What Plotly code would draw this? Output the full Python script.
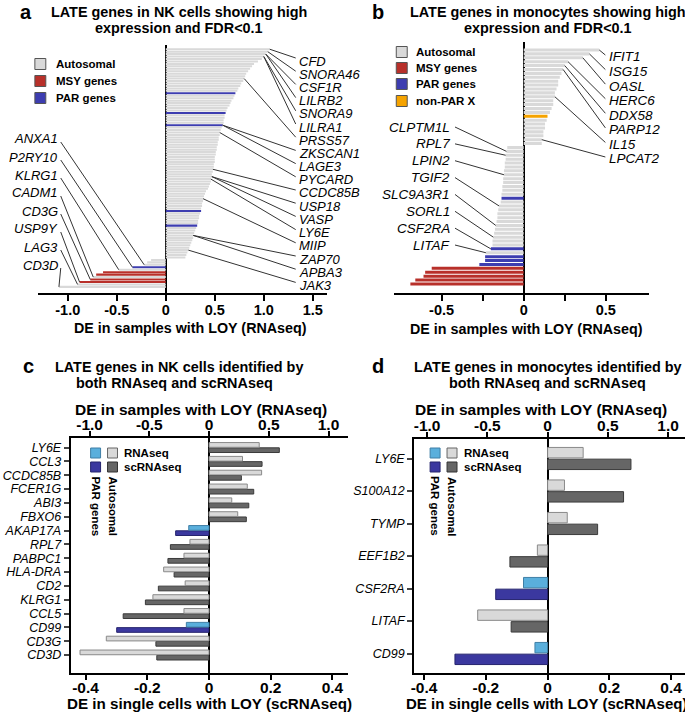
import plotly.graph_objects as go

W, H = 685, 714
FONT = "Liberation Sans, Arial, sans-serif"

GRAY = "#d9d9d9"
RED = "#b8302a"
BLUE = "#3d3db0"
ORANGE = "#f5a300"

# ---- panel a: NK cells, DE in samples with LOY (RNAseq), sorted top to bottom ----
a_de = [
    1.06, 1.04, 1.02, 1.00, 0.98, 0.94, 0.90, 0.88, 0.86, 0.84,
    0.82, 0.81, 0.80, 0.79, 0.77, 0.76, 0.74, 0.73, 0.71, 0.70,
    0.69, 0.67, 0.66, 0.65, 0.63, 0.62, 0.61, 0.60, 0.60, 0.59,
    0.59, 0.58, 0.57, 0.56, 0.55, 0.55, 0.54, 0.54, 0.53, 0.53,
    0.52, 0.52, 0.51, 0.51, 0.50, 0.50, 0.50, 0.49, 0.49, 0.48,
    0.48, 0.47, 0.47, 0.46, 0.46, 0.45, 0.44, 0.43, 0.41, 0.40,
    0.39, 0.38, 0.38, 0.37, 0.37, 0.36, 0.36, 0.35, 0.34, 0.34,
    0.33, 0.33, 0.32, 0.31, 0.30, 0.29, 0.28, 0.28, 0.27, 0.26,
    0.25, 0.24, 0.23, 0.22, 0.21, 0.20,
    -0.15, -0.19, -0.22, -0.34, -0.48, -0.64, -0.71, -0.74, -0.77, -0.88, -0.90, -1.09,
]
a_par_rows = [18, 26, 31, 66, 72, 89]
a_msy_rows = [91, 92, 94, 95]
a_right_genes = ["CFD", "SNORA46", "CSF1R", "LILRB2", "SNORA9", "LILRA1", "PRSS57",
                 "ZKSCAN1", "LAGE3", "PYCARD", "CCDC85B", "USP18", "VASP", "LY6E",
                 "MIIP", "ZAP70", "APBA3", "JAK3"]
a_right_rows = [0, 1, 2, 2, 3, 3, 12, 31, 31, 34, 49, 52, 52, 53, 61, 76, 76, 82]
a_left_genes = ["ANXA1", "P2RY10", "KLRG1", "CADM1", "CD3G", "USP9Y", "LAG3", "CD3D"]
a_left_rows = [88, 89, 90, 93, 94, 95, 96, 97]

# ---- panel b: monocytes ----
b_de = [
    0.46, 0.40, 0.36, 0.27, 0.25, 0.24, 0.23, 0.22, 0.21, 0.21,
    0.20, 0.19, 0.19, 0.18, 0.18, 0.17, 0.16, 0.145, 0.14, 0.13,
    0.13, 0.12, 0.12, 0.11, 0.11,
    -0.10, -0.105, -0.11, -0.11, -0.115, -0.115, -0.12, -0.12, -0.125, -0.125,
    -0.13, -0.13, -0.135, -0.135, -0.14, -0.15, -0.155, -0.16, -0.16, -0.165,
    -0.17, -0.175, -0.18, -0.185, -0.19, -0.19, -0.20, -0.23, -0.235, -0.235,
    -0.27, -0.56, -0.60, -0.61, -0.66, -0.69,
]
b_par_rows = [38, 51, 53, 54, 55]
b_msy_rows = [56, 57, 58, 59, 60]
b_nonpar_rows = [17]
b_right_genes = ["IFIT1", "ISG15", "OASL", "HERC6", "DDX58", "PARP12", "IL15", "LPCAT2"]
b_right_rows = [0, 1, 2, 3, 4, 5, 12, 23]
b_left_genes = ["CLPTM1L", "RPL7", "LPIN2", "TGIF2", "SLC9A3R1", "SORL1", "CSF2RA", "LITAF"]
b_left_rows = [26, 27, 32, 40, 45, 48, 51, 52]

# ---- panel c: NK cells, RNAseq vs scRNAseq ----
c_genes = ["LY6E", "CCL3", "CCDC85B", "FCER1G", "ABI3", "FBXO6", "AKAP17A", "RPL7",
           "PABPC1", "HLA-DRA", "CD2", "KLRG1", "CCL5", "CD99", "CD3G", "CD3D"]
c_rna = [0.42, 0.28, 0.44, 0.32, 0.19, 0.24, -0.17, -0.16,
         -0.21, -0.38, -0.20, -0.47, -0.21, -0.19, -0.86, -1.08]
c_sc = [0.228, 0.172, 0.105, 0.145, 0.129, 0.121, -0.108, -0.125,
        -0.133, -0.113, -0.164, -0.206, -0.278, -0.299, -0.172, -0.169]
c_par = ["AKAP17A", "CD99"]

# ---- panel d: monocytes, RNAseq vs scRNAseq ----
d_genes = ["LY6E", "S100A12", "TYMP", "EEF1B2", "CSF2RA", "LITAF", "CD99"]
d_rna = [0.295, 0.14, 0.163, -0.085, -0.20, -0.58, -0.105]
d_sc = [0.27, 0.246, 0.162, -0.122, -0.168, -0.118, -0.30]
d_par = ["CSF2RA", "CD99"]


def px(x):
    return x / W


def py(y):
    return 1 - y / H


# pixel boxes of the two sorted-bar panels and their data ranges (top value, bottom value)
PA = dict(x0=35, x1=325, xr=(-1.305, 1.64), y0=45, y1=293, yr=(-1.72, 99.5))
PB = dict(x0=393, x1=649, xr=(-0.788, 0.764), y0=42, y1=293, yr=(-2.04, 62.32))


def to_data(p, x, y):
    dx = p["xr"][0] + (x - p["x0"]) / (p["x1"] - p["x0"]) * (p["xr"][1] - p["xr"][0])
    dy = p["yr"][0] + (y - p["y0"]) / (p["y1"] - p["y0"]) * (p["yr"][1] - p["yr"][0])
    return dx, dy


def row_colors(n, par, msy, nonpar=()):
    out = []
    for i in range(n):
        if i in par:
            out.append(BLUE)
        elif i in msy:
            out.append(RED)
        elif i in nonpar:
            out.append(ORANGE)
        else:
            out.append(GRAY)
    return out


fig = go.Figure()

fig.add_trace(go.Bar(
    x=a_de, y=list(range(len(a_de))), orientation="h", width=0.82,
    marker=dict(color=row_colors(len(a_de), a_par_rows, a_msy_rows), line=dict(width=0)),
    xaxis="x", yaxis="y", showlegend=False,
))
fig.add_trace(go.Bar(
    x=b_de, y=list(range(len(b_de))), orientation="h", width=0.78,
    marker=dict(color=row_colors(len(b_de), b_par_rows, b_msy_rows, b_nonpar_rows),
                line=dict(width=0)),
    xaxis="x2", yaxis="y2", showlegend=False,
))


def paired(genes, rna, sc, par, xb, xt, ya, width, off):
    light = ["#5aafdc" if g in par else "#d9d9d9" for g in genes]
    light_ln = ["#3f7fa6" if g in par else "#8a8a8a" for g in genes]
    dark = ["#3b389f" if g in par else "#666666" for g in genes]
    dark_ln = ["#26246e" if g in par else "#3a3a3a" for g in genes]
    fig.add_trace(go.Bar(
        y=genes, x=rna, orientation="h", width=width, offset=-off,
        marker=dict(color=light, line=dict(color=light_ln, width=1)),
        xaxis=xt, yaxis=ya, showlegend=False,
    ))
    fig.add_trace(go.Bar(
        y=genes, x=sc, orientation="h", width=width, offset=off - width,
        marker=dict(color=dark, line=dict(color=dark_ln, width=1)),
        xaxis=xb, yaxis=ya, showlegend=False,
    ))


paired(c_genes, c_rna, c_sc, c_par, "x3", "x4", "y3", 0.34, 0.36)
paired(d_genes, d_rna, d_sc, d_par, "x5", "x6", "y4", 0.32, 0.34)

tick_font = dict(family=FONT, size=14.5, color="black", weight="bold")
tick_font_cd = dict(family=FONT, size=15.5, color="black", weight="bold")
axis_common = dict(showline=True, linecolor="black", linewidth=2, ticks="outside",
                   tickwidth=2, tickcolor="black", showgrid=False,
                   layer="above traces")

fig.update_layout(
    width=W, height=H, margin=dict(l=0, r=0, t=0, b=0),
    plot_bgcolor="white", paper_bgcolor="white", barmode="overlay",
    font=dict(family=FONT, color="black"),
    xaxis=dict(domain=[px(35), px(325)], anchor="y", range=list(PA["xr"]),
               tickvals=[-1, -0.5, 0, 0.5, 1, 1.5],
               ticktext=["-1.0", "-0.5", "0", "0.5", "1.0", "1.5"],
               zeroline=True, zerolinecolor="black", zerolinewidth=2, ticklen=6,
               ticklabelstandoff=-3, tickfont=tick_font, **axis_common),
    yaxis=dict(domain=[py(293), py(45)], anchor="x", range=[PA["yr"][1], PA["yr"][0]],
               visible=False),
    xaxis2=dict(domain=[px(393), px(649)], anchor="y2", range=list(PB["xr"]),
                tickvals=[-0.5, -0.25, 0, 0.25, 0.5], ticktext=["-0.5", "", "0", "", "0.5"],
                zeroline=True, zerolinecolor="black", zerolinewidth=2, ticklen=6,
                ticklabelstandoff=-3, tickfont=tick_font, **axis_common),
    yaxis2=dict(domain=[py(293), py(42)], anchor="x2", range=[PB["yr"][1], PB["yr"][0]],
                visible=False),
    xaxis3=dict(domain=[px(68), px(347)], anchor="y3", range=[-0.448, 0.452],
                tickvals=[-0.4, -0.2, 0, 0.2, 0.4], ticktext=["-0.4", "-0.2", "0", "0.2", "0.4"],
                zeroline=True, zerolinecolor="black", zerolinewidth=2, ticklen=5,
                ticklabelstandoff=-6, tickfont=tick_font_cd, **axis_common),
    xaxis4=dict(overlaying="x3", side="top", anchor="y3", range=[-1.158, 1.167],
                tickvals=[-1, -0.5, 0, 0.5, 1], ticktext=["-1.0", "-0.5", "0", "0.5", "1.0"],
                zeroline=False, ticklen=5, ticklabelstandoff=-5,
                tickfont=tick_font_cd, **axis_common),
    yaxis3=dict(domain=[py(673), py(438)], anchor="x3", type="category",
                categoryorder="array", categoryarray=c_genes, range=[16.3, -0.69],
                tickmode="array", tickvals=c_genes, ticktext=c_genes,
                tickfont=dict(family=FONT, size=12.5, color="black", style="italic"),
                showline=True, linecolor="black", linewidth=2, ticks="outside",
                ticklen=5, tickwidth=1.5, showgrid=False, zeroline=False),
    xaxis5=dict(domain=[px(413), 1], anchor="y4", range=[-0.432, 0.445],
                tickvals=[-0.4, -0.2, 0, 0.2, 0.4], ticktext=["-0.4", "-0.2", "0", "0.2", "0.4"],
                zeroline=True, zerolinecolor="black", zerolinewidth=2, ticklen=5,
                ticklabelstandoff=-6, tickfont=tick_font_cd, **axis_common),
    xaxis6=dict(overlaying="x5", side="top", anchor="y4", range=[-1.107, 1.14],
                tickvals=[-1, -0.5, 0, 0.5, 1], ticktext=["-1.0", "-0.5", "0", "0.5", "1.0"],
                zeroline=False, ticklen=5, ticklabelstandoff=-5,
                tickfont=tick_font_cd, **axis_common),
    yaxis4=dict(domain=[py(673), py(439)], anchor="x5", type="category",
                categoryorder="array", categoryarray=d_genes, range=[6.6, -0.6],
                tickmode="array", tickvals=d_genes, ticktext=d_genes,
                tickfont=dict(family=FONT, size=12.5, color="black", style="italic"),
                showline=True, linecolor="black", linewidth=2, ticks="outside",
                ticklen=5, tickwidth=1.5, showgrid=False, zeroline=False),
)

ann = []
shapes = []


def text(x, y, s, size, bold=True, xanchor="center", angle=0, italic=False):
    ann.append(dict(
        x=px(x), y=py(y), xref="paper", yref="paper", text=f"<b>{s}</b>" if bold else s,
        showarrow=False, xanchor=xanchor, yanchor="middle", textangle=angle,
        font=dict(family=FONT, size=size, color="black", style="italic" if italic else "normal"),
    ))


# panel letters and titles
for letter, x, y in [("a", 23, 12), ("b", 377, 12), ("c", 26, 366), ("d", 377, 366)]:
    text(x, y, letter, 20)
text(177, 12, "LATE genes in NK cells showing high", 14.4)
text(177, 28, "expression and FDR&lt;0.1", 14.4)
text(547, 12, "LATE genes in monocytes showing high", 14.4)
text(547, 28, "expression and FDR&lt;0.1", 14.4)
text(177, 367, "LATE genes in NK cells identified by", 14.4)
text(172, 383, "both RNAseq and scRNAseq", 14.4)
text(547, 367, "LATE genes in monocytes identified by", 14.4)
text(547, 383, "both RNAseq and scRNAseq", 14.4)

# axis titles
text(188, 328, "DE in samples with LOY (RNAseq)", 14.3)
text(526, 329, "DE in samples with LOY (RNAseq)", 14.3)
text(199, 410, "DE in samples with LOY (RNAseq)", 15.5)
text(207, 703, "DE in single cells with LOY (scRNAseq)", 15.2)
text(540, 410, "DE in samples with LOY (RNAseq)", 15.5)
text(546, 703, "DE in single cells with LOY (scRNAseq)", 15.0)


def square(x0, yc, color, size=11, line="#555555"):
    shapes.append(dict(type="rect", xref="paper", yref="paper",
                       x0=px(x0), x1=px(x0 + size), y0=py(yc + size / 2), y1=py(yc - size / 2),
                       fillcolor=color, line=dict(color=line, width=1)))


# legends a, b
for name, col, yc in [("Autosomal", GRAY, 64), ("MSY genes", RED, 81), ("PAR genes", BLUE, 98)]:
    square(32, yc, col)
    text(51, yc, name, 11.5, xanchor="left")
for name, col, yc in [("Autosomal", GRAY, 52), ("MSY genes", RED, 68), ("PAR genes", BLUE, 84),
                      ("non-PAR X", ORANGE, 101)]:
    square(395, yc, col)
    text(413, yc, name, 11.5, xanchor="left")

# legends c, d
for x0 in (88, 429):
    square(x0, 453, "#5aafdc", size=10, line="#3f7fa6")
    square(x0 + 17, 453, "#d9d9d9", size=10, line="#666666")
    square(x0, 467, "#3b389f", size=10, line="#26246e")
    square(x0 + 17, 467, "#666666", size=10, line="#333333")
    text(x0 + 32, 453, "RNAseq", 11.5, xanchor="left")
    text(x0 + 32, 467, "scRNAseq", 11.5, xanchor="left")
    text(x0 + 5, 506, "PAR genes", 11.5, angle=90)
    text(x0 + 22, 506, "Autosomal", 11.5, angle=90)


def leader(p, xref, yref, lx, ly, val, row):
    sx, sy = to_data(p, lx, ly)
    shapes.append(dict(type="line", xref=xref, yref=yref, x0=sx, y0=sy, x1=val, y1=row,
                       line=dict(color="#333333", width=1)))


# gene labels with leader lines, panel a
for k, (g, r) in enumerate(zip(a_right_genes, a_right_rows)):
    y = 61 + 13.2 * k
    text(295, y, g, 13, bold=False, xanchor="left", italic=True)
    leader(PA, "x", "y", 294, y - 3, a_de[r], r)
for k, (g, r) in enumerate(zip(a_left_genes, a_left_rows)):
    y = 139 + 18 * k
    text(57, y, g, 13, bold=False, xanchor="right", italic=True)
    leader(PA, "x", "y", 58, y + 3, a_de[r], r)

# panel b
for k, (g, r) in enumerate(zip(b_right_genes, b_right_rows)):
    y = 57 + 14.57 * k
    text(607, y, g, 13.5, bold=False, xanchor="left", italic=True)
    leader(PB, "x2", "y2", 605, y - 2, b_de[r], r)
for k, (g, r) in enumerate(zip(b_left_genes, b_left_rows)):
    y = 127 + 16.86 * k
    text(451, y, g, 13.5, bold=False, xanchor="right", italic=True)
    leader(PB, "x2", "y2", 454, y, b_de[r], r)

fig.update_layout(annotations=ann, shapes=shapes)

# the page body has a default 8px margin; drop it so the figure sits at the window origin
fig.write_html("out.html", config={"displayModeBar": False},
               post_script="document.body.style.margin='0';"
                           "document.body.style.overflow='hidden';")
